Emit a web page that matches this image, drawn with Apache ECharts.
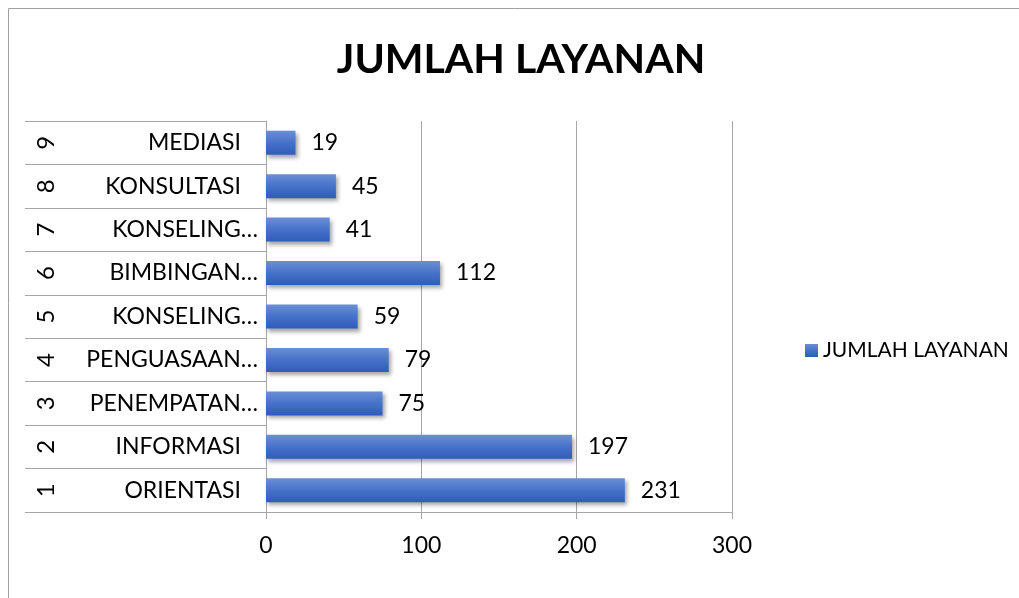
<!DOCTYPE html>
<html>
<head>
<meta charset="utf-8">
<script src="https://cdn.jsdelivr.net/npm/echarts@6/dist/echarts.min.js"></script>
<style>
  html, body { margin: 0; padding: 0; background: #fff; }
  #chart { width: 1019px; height: 598px; }
</style>
</head>
<body>
<div id="chart"></div>
<script>
// data (bottom to top)
var nomor = ['1', '2', '3', '4', '5', '6', '7', '8', '9'];
var layanan = ['ORIENTASI', 'INFORMASI', 'PENEMPATAN…', 'PENGUASAAN…', 'KONSELING…', 'BIMBINGAN…', 'KONSELING…', 'KONSULTASI', 'MEDIASI'];
var jumlah = [231, 197, 75, 79, 59, 112, 41, 45, 19];
var xTicks = [0, 100, 200, 300];

var font = 'Lato, "Open Sans", sans-serif';
var grey = '#a6a6a6';
var fs = 23;

var chart = echarts.init(document.getElementById('chart'), null, {renderer: 'canvas'});

var barColor = new echarts.graphic.LinearGradient(0, 0, 0, 1, [
    {offset: 0, color: '#6a8fd6'},
    {offset: 0.5, color: '#4672c8'},
    {offset: 1, color: '#2f5cba'}
]);

var option = {}
option['backgroundColor'] = '#fff'
option['animation'] = false

option['title'] = {
    text: 'JUMLAH LAYANAN',
    left: 516,
    top: 34,
    textAlign: 'center',
    textStyle: {
        fontFamily: font,
        fontSize: 41,
        fontWeight: 'bold',
        color: '#000'
    }
}

option['legend'] = {
    data: ['JUMLAH LAYANAN'],
    left: 800,
    top: 335,
    itemWidth: 13,
    itemHeight: 13,
    itemGap: 5,
    icon: 'rect',
    textStyle: {
        fontFamily: font,
        fontSize: 21,
        color: '#000',
        padding: [0, 0, 0, 0]
    }
}

option['grid'] = {
    left: 266,
    right: 287,
    top: 121,
    bottom: 86,
    containLabel: false
}

option['xAxis'] = {
    type: 'value',
    min: xTicks[0],
    max: xTicks[xTicks.length - 1],
    interval: 100,
    axisLine: {show: true, lineStyle: {color: grey, width: 1}},
    axisTick: {show: true, length: 7, lineStyle: {color: grey}},
    splitLine: {show: true, lineStyle: {color: grey, width: 1}},
    axisLabel: {
        fontFamily: font,
        fontSize: fs,
        color: '#000',
        margin: 22
    }
}

option['yAxis'] = [
    {
        type: 'category',
        data: layanan,
        position: 'left',
        axisLine: {show: true, lineStyle: {color: grey}},
        axisTick: {show: true, length: 241, lineStyle: {color: grey}},
        splitLine: {show: false},
        axisLabel: {
            margin: 8,
            formatter: function (v) {
                // labels that were not cut keep a trailing gap like the original
                return v.slice(-1) == '…' ? '{t|' + v + '}' : '{f|' + v + '}';
            },
            rich: {
                t: {fontFamily: font, fontSize: fs, color: '#000'},
                f: {fontFamily: font, fontSize: fs, color: '#000', padding: [0, 17, 0, 0]}
            }
        }
    },
    {
        type: 'category',
        data: nomor,
        position: 'left',
        offset: 208,
        axisLine: {show: false},
        axisTick: {show: false},
        splitLine: {show: false},
        axisLabel: {
            margin: 0,
            rotate: 90,
            fontFamily: font,
            fontSize: 24,
            color: '#000'
        }
    }
]

option['series'] = [{
    name: 'JUMLAH LAYANAN',
    type: 'bar',
    yAxisIndex: 0,
    data: jumlah,
    barWidth: 24,
    itemStyle: {
        color: barColor,
        shadowColor: 'rgba(0,0,0,0.35)',
        shadowBlur: 4,
        shadowOffsetX: 2,
        shadowOffsetY: 3
    },
    label: {
        show: true,
        position: 'right',
        distance: 16,
        fontFamily: font,
        fontSize: fs,
        color: '#000'
    }
}]

option['graphic'] = [{
    type: 'rect',
    shape: {x: 8.5, y: 8.5, width: 1200, height: 800},
    style: {fill: 'none', stroke: '#a0a0a0', lineWidth: 1},
    silent: true,
    z: 100
}]

option && chart.setOption(option)
</script>
</body>
</html>
